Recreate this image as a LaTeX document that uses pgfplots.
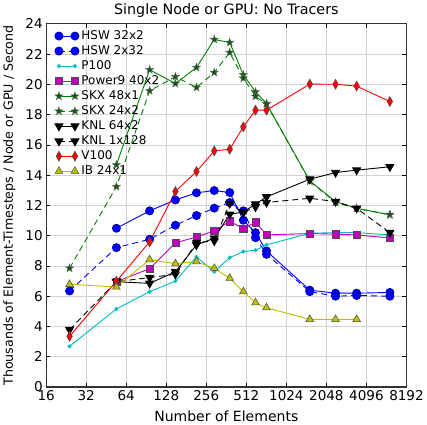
\documentclass[border=0pt]{standalone}
\usepackage{fontspec}
\setmainfont{DejaVu Sans}
\usepackage{pgfplots}
\pgfplotsset{compat=1.18}
\definecolor{mcyan}{rgb}{0,0.75,0.75}
\definecolor{mmag}{rgb}{0.75,0,0.75}
\definecolor{mgreen}{rgb}{0,0.5,0}
\definecolor{mdkgreen}{rgb}{0.05,0.35,0.05}
\definecolor{myel}{rgb}{0.75,0.75,0}
\pgfdeclareplotmark{fstar}{%
  \pgfpathmoveto{\pgfpointpolar{90}{\pgfplotmarksize}}%
  \pgfpathlineto{\pgfpointpolar{126}{0.4\pgfplotmarksize}}%
  \pgfpathlineto{\pgfpointpolar{162}{\pgfplotmarksize}}%
  \pgfpathlineto{\pgfpointpolar{198}{0.4\pgfplotmarksize}}%
  \pgfpathlineto{\pgfpointpolar{234}{\pgfplotmarksize}}%
  \pgfpathlineto{\pgfpointpolar{270}{0.4\pgfplotmarksize}}%
  \pgfpathlineto{\pgfpointpolar{306}{\pgfplotmarksize}}%
  \pgfpathlineto{\pgfpointpolar{342}{0.4\pgfplotmarksize}}%
  \pgfpathlineto{\pgfpointpolar{18}{\pgfplotmarksize}}%
  \pgfpathlineto{\pgfpointpolar{54}{0.4\pgfplotmarksize}}%
  \pgfpathclose
  \pgfusepathqfillstroke}
\begin{document}
\begin{tikzpicture}
\begin{axis}[
  scale only axis, width=360pt, height=363pt,
  xmode=log, log basis x=2, xmin=16, xmax=8192,
  xtick={16,32,64,128,256,512,1024,2048,4096,8192},
  xticklabels={16,32,64,128,256,512,1024,2048,4096,8192},
  ymin=0, ymax=24, ytick={0,2,...,24},
  /pgf/number format/assume math mode=true,
  tick label style={font=\fontsize{13.5}{15}\selectfont},
  grid=major, major grid style={gray!35, line width=0.6pt},
  tick style={black, line width=0.6pt}, major tick length=4pt,
  tick align=inside,
  axis line style={black!80, line width=1.1pt},
  title={Single Node or GPU: No Tracers},
  title style={font=\fontsize{14.3}{16}\selectfont, yshift=-3pt},
  xlabel={Number of Elements},
  ylabel={Thousands of Element-Timesteps / Node or GPU / Second},
  xlabel style={font=\fontsize{14}{16}\selectfont, yshift=-3pt},
  ylabel style={font=\fontsize{12.6}{14}\selectfont, yshift=3pt},
  legend style={at={(0.018,0.992)}, anchor=north west, draw=none, fill=none,
    font=\fontsize{12}{13}\selectfont, row sep=0.6pt, inner sep=2pt},
  legend cell align=left,
  legend image code/.code={%
    \draw[#1] (0pt,0pt) -- (16pt,0pt);
    \draw[#1, only marks] plot coordinates {(0pt,0pt) (16pt,0pt)};
    \path (20pt,0pt);},
  every axis plot/.append style={line width=0.9pt},
  dashed/.style={dash pattern=on 6pt off 4pt},
]
% HSW 32x2
\addplot[blue, mark=*, mark size=4pt, mark options={solid, fill=blue, draw=blue!70!black}] coordinates {
(54,10.49)(96,11.64)(150,12.36)(216,12.83)(294,12.98)(384,12.85)(486,11.02)(600,10.2)(726,8.99)(1536,6.4)(2400,6.2)(3456,6.2)(6144,6.25)};
\addlegendentry{HSW 32x2}
% HSW 2x32
\addplot[blue, dashed, mark=*, mark size=4pt, mark options={solid, fill=blue, draw=blue!70!black}] coordinates {
(24,6.35)(54,9.21)(96,9.76)(150,10.69)(216,11.33)(294,11.82)(384,12.19)(486,11.64)(600,9.87)(726,8.77)(1536,6.3)(2400,6.0)(3456,6.05)(6144,6.0)};
\addlegendentry{HSW 2x32}
% P100
\addplot[mcyan, mark=*, mark size=1.6pt, mark options={solid, fill=mcyan, draw=mcyan}] coordinates {
(24,2.69)(54,5.16)(96,6.3)(150,7.0)(216,8.6)(294,7.62)(384,8.55)(486,8.95)(600,9.04)(726,9.39)(1536,10.16)(2400,10.2)(3456,10.2)(6144,10.05)};
\addlegendentry{P100}
% Power9 40x2
\addplot[mmag, mark=square*, mark size=3.6pt, mark options={solid, fill=mmag, draw=black!70, line width=0.5pt}] coordinates {
(54,6.96)(96,7.82)(150,9.52)(216,9.92)(294,10.31)(384,10.95)(486,10.47)(600,10.89)(726,10.05)(1536,10.14)(2400,10.1)(3456,10.05)(6144,9.85)};
\addlegendentry{Power9 40x2}
% SKX 48x1
\addplot[mgreen, mark=fstar, mark size=4.3pt, mark options={solid, fill=mdkgreen, draw=black!60, line width=0.4pt}] coordinates {
(54,14.68)(96,20.96)(150,20.05)(216,21.11)(294,22.96)(384,22.76)(486,20.63)(600,19.5)(726,18.73)(1536,13.62)(2400,12.25)(3456,11.81)(6144,11.37)};
\addlegendentry{SKX 48x1}
% SKX 24x2
\addplot[mgreen, dashed, mark=fstar, mark size=4.3pt, mark options={solid, fill=mdkgreen, draw=black!60, line width=0.4pt}] coordinates {
(24,7.85)(54,13.24)(96,19.57)(150,20.5)(216,19.79)(294,20.78)(384,22.1)(486,20.4)(600,19.2)(726,18.7)(1536,13.6)(2400,12.2)(3456,11.8)(6144,11.4)};
\addlegendentry{SKX 24x2}
% KNL 64x2
\addplot[black, mark=triangle*, mark size=4.5pt, mark options={solid, rotate=180, fill=black}] coordinates {
(54,6.96)(96,6.85)(150,7.62)(216,9.39)(294,9.83)(384,11.41)(486,11.57)(600,12.08)(726,12.56)(1536,13.73)(2400,14.17)(3456,14.33)(6144,14.55)};
\addlegendentry{KNL 64x2}
% KNL 1x128
\addplot[black, dashed, mark=triangle*, mark size=4.5pt, mark options={solid, rotate=180, fill=black}] coordinates {
(24,3.79)(54,6.96)(96,7.23)(150,7.45)(216,9.54)(294,9.65)(384,12.12)(486,11.53)(600,11.9)(726,12.19)(1536,12.47)(2400,12.25)(3456,11.81)(6144,10.2)};
\addlegendentry{KNL 1x128}
% V100
\addplot[red, mark=diamond*, mark size=5pt, mark options={solid, fill=red, draw=black!70, line width=0.5pt, xscale=0.75}] coordinates {
(24,3.35)(54,6.99)(96,9.59)(150,12.92)(216,14.24)(294,15.6)(384,15.71)(486,17.19)(600,18.29)(726,18.29)(1536,20.01)(2400,20.0)(3456,19.88)(6144,18.86)};
\addlegendentry{V100}
% IB 24x1
\addplot[myel, mark=triangle*, mark size=4.5pt, mark options={solid, fill=myel, draw=black!70, line width=0.5pt}] coordinates {
(24,6.79)(54,6.61)(96,8.42)(150,8.15)(216,8.28)(294,7.85)(384,7.19)(486,6.3)(600,5.57)(726,5.24)(1536,4.47)(2400,4.47)(3456,4.47)};
\addlegendentry{IB 24x1}
\end{axis}
\end{tikzpicture}
\end{document}
